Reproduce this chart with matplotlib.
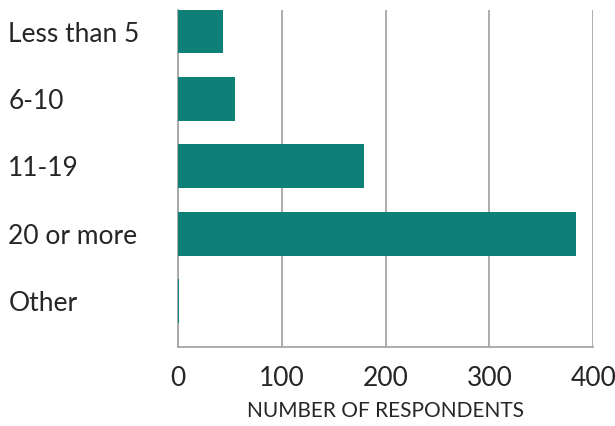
import matplotlib
matplotlib.use("Agg")
import matplotlib.pyplot as plt

categories = ["Less than 5", "6-10", "11-19", "20 or more", "Other"]
values = [44, 55, 179, 383, 1.5]
xticks = [0, 100, 200, 300, 400]

plt.rcParams['font.family'] = ['Lato', 'DejaVu Sans']

fig = plt.figure(figsize=(6.15, 4.26), dpi=100)
ax = fig.add_axes([0.289, 0.186, 0.9647 - 0.289, 0.9765 - 0.186])

pos = list(range(len(categories)))
ax.barh(pos, values, height=0.65, color="#0e8078", zorder=3)
ax.set_ylim(4.68, -0.32)
ax.set_xlim(0, 400)
ax.set_xticks(xticks)
ax.set_xticklabels([str(t) for t in xticks], fontsize=19, color="#262626")
ax.set_yticks(pos)
ax.set_yticklabels(categories, fontsize=19, color="#262626")
for lab in ax.get_yticklabels():
    lab.set_ha('left')
ax.tick_params(axis='y', length=0, pad=122)
ax.tick_params(axis='x', length=0, pad=14)
ax.grid(axis='x', color="#a6a6a6", linewidth=1.3, zorder=0)
for s in ['top', 'right']:
    ax.spines[s].set_visible(False)
for s in ['left', 'bottom']:
    ax.spines[s].set_color("#a6a6a6")
    ax.spines[s].set_linewidth(1.3)
ax.set_xlabel("NUMBER OF RESPONDENTS", fontsize=15, color="#262626", labelpad=7)

fig.savefig("out.png", dpi=100)
